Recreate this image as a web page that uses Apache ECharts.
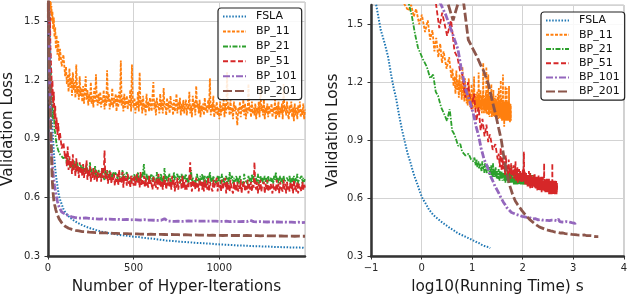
<!DOCTYPE html>
<html><head><meta charset="utf-8">
<script src="https://cdn.jsdelivr.net/npm/echarts/dist/echarts.min.js"></script>
<style>html,body{margin:0;padding:0;background:#fff}#c{width:630px;height:300px}</style>
</head><body><div id="c"></div>
<script>
// ---------------- DATA ----------------
const seriesNames = ['FSLA', 'BP_11', 'BP_21', 'BP_51', 'BP_101', 'BP_201'];
// hyper-iteration index of each sample (smooth curves)
const iterations = [1,2,3,4,5,6,7,8,10,12,14,16,18,20,23,26,30,34,38,42,46,50,55,60,65,70,80,90,100,
 110,120,130,140,150,160,170,180,190,200, 210,220,230,240,250,260,270,280,290,300,
 310,320,330,340,350,360,370,380,390,400, 410,420,430,440,450,460,470,480,490,500,
 510,520,530,540,550,560,570,580,590,600, 610,620,630,640,650,660,670,680,690,700,
 710,720,730,740,750,760,770,780,790,800, 810,820,830,840,850,860,870,880,890,900,
 910,920,930,940,950,960,970,980,990,1000, 1010,1020,1030,1040,1050,1060,1070,1080,1090,1100,
 1110,1120,1130,1140,1150,1160,1170,1180,1190,1200, 1210,1220,1230,1240,1250,1260,1270,1280,1290,1300,
 1310,1320,1330,1340,1350,1360,1370,1380,1390,1400, 1410,1420,1430,1440,1450,1460,1470,1480,1490,1500];
// hyper-iteration index of each sample (noisy curves, finer sampling)
const iterationsFine = [1,2,3,4,5,6,7,8,10,12,14,16,18,20,23,26,30,34,38,42,46,50,55,60,65,70,80,90,100,
 105,110,115,120,125,130,135,140,145,150,155,160,165,170,175,180,185,190,195,200,
 205,210,215,220,225,230,235,240,245,250,255,260,265,270,275,280,285,290,295,300,
 305,310,315,320,325,330,335,340,345,350,355,360,365,370,375,380,385,390,395,400,
 405,410,415,420,425,430,435,440,445,450,455,460,465,470,475,480,485,490,495,500,
 505,510,515,520,525,530,535,540,545,550,555,560,565,570,575,580,585,590,595,600,
 605,610,615,620,625,630,635,640,645,650,655,660,665,670,675,680,685,690,695,700,
 705,710,715,720,725,730,735,740,745,750,755,760,765,770,775,780,785,790,795,800,
 805,810,815,820,825,830,835,840,845,850,855,860,865,870,875,880,885,890,895,900,
 905,910,915,920,925,930,935,940,945,950,955,960,965,970,975,980,985,990,995,1000,
 1005,1010,1015,1020,1025,1030,1035,1040,1045,1050,1055,1060,1065,1070,1075,1080,1085,1090,1095,1100,
 1105,1110,1115,1120,1125,1130,1135,1140,1145,1150,1155,1160,1165,1170,1175,1180,1185,1190,1195,1200,
 1205,1210,1215,1220,1225,1230,1235,1240,1245,1250,1255,1260,1265,1270,1275,1280,1285,1290,1295,1300,
 1305,1310,1315,1320,1325,1330,1335,1340,1345,1350,1355,1360,1365,1370,1375,1380,1385,1390,1395,1400,
 1405,1410,1415,1420,1425,1430,1435,1440,1445,1450,1455,1460,1465,1470,1475,1480,1485,1490,1495,1500];
// running time per hyper-iteration (s) for each method
const secPerIter = [0.0156, 0.039, 0.106, 0.32, 0.75, 2.1];

const lossFSLA = [2.3,2.1,1.95,1.85,1.78,1.72,1.66,1.61,1.47,1.40,1.33,1.24,1.17,1.12,1.03,0.96,0.89,0.83,0.79,0.75,0.715,0.69,0.66,0.63,0.605,0.59,0.565,0.54,0.525,
 0.512,0.503,0.496,0.487,0.482,0.475,0.471,0.464,0.462,0.456,
 0.454,0.449,0.447,0.442,0.441,0.437,0.436,0.431,0.430,0.426,
 0.425,0.421,0.422,0.417,0.418,0.414,0.415,0.411,0.412,0.409,
 0.409,0.406,0.406,0.403,0.405,0.401,0.402,0.399,0.400,0.397,
 0.398,0.395,0.397,0.393,0.394,0.392,0.392,0.389,0.390,0.387,
 0.389,0.385,0.386,0.384,0.384,0.381,0.382,0.379,0.379,0.376,
 0.378,0.375,0.377,0.373,0.375,0.372,0.373,0.371,0.372,0.370,
 0.371,0.368,0.370,0.367,0.368,0.366,0.367,0.364,0.366,0.363,
 0.365,0.362,0.364,0.361,0.363,0.360,0.361,0.359,0.360,0.358,
 0.359,0.357,0.358,0.356,0.357,0.355,0.356,0.354,0.355,0.353,
 0.354,0.352,0.354,0.351,0.353,0.350,0.352,0.350,0.351,0.349,
 0.350,0.348,0.350,0.347,0.349,0.347,0.348,0.346,0.348,0.345,
 0.347,0.345,0.346,0.344,0.346,0.344,0.345,0.343,0.345,0.343,
 0.344,0.342,0.344,0.342,0.343,0.341,0.343,0.341,0.342,0.340];

const lossBP11 = [2.3,2.1,1.98,1.9,1.84,1.78,1.74,1.7,1.64,1.6,1.57,1.60,1.54,1.58,1.50,1.55,1.46,1.52,1.42,1.47,1.36,1.43,1.33,1.40,1.30,1.36,1.27,1.33,1.22,
 1.27,1.18,1.23,1.14,1.26,1.16,1.21,1.12,1.24,1.15,1.19,1.11,1.28,1.13,1.17,1.10,1.22,1.12,1.16,1.09,
 1.17,1.08,1.14,1.22,1.10,1.15,1.07,1.13,1.09,1.19,1.08,1.12,1.06,1.16,1.09,1.23,1.10,1.07,1.13,1.08,
 1.14,1.06,1.11,1.08,1.15,1.05,1.12,1.07,1.25,1.09,1.13,1.05,1.10,1.07,1.16,1.06,1.11,1.08,1.13,1.04,
 1.12,1.06,1.14,1.08,1.30,1.07,1.11,1.04,1.13,1.06,1.09,1.12,1.05,1.10,1.07,1.15,1.04,1.28,1.08,1.06,
 1.11,1.03,1.09,1.06,1.14,1.04,1.24,1.07,1.10,1.03,1.12,1.05,1.08,1.02,1.13,1.06,1.09,1.04,1.11,1.07,
 1.04,1.12,1.19,1.05,1.09,1.02,1.11,1.06,1.08,1.03,1.13,1.05,1.10,1.03,1.16,1.06,1.08,1.02,1.11,1.05,
 1.09,1.03,1.12,1.06,1.08,1.02,1.10,1.04,1.07,1.13,1.03,1.09,1.05,1.11,1.02,1.08,1.04,1.10,1.03,1.07,
 1.10,1.02,1.08,1.05,1.14,1.03,1.07,1.01,1.12,1.05,1.09,1.02,1.17,1.06,1.08,1.03,1.10,1.01,1.07,1.04,
 1.08,1.02,1.11,1.04,1.07,1.03,1.10,1.05,1.21,1.02,1.08,1.04,1.12,1.01,1.07,1.03,1.09,1.02,1.06,1.00,
 1.09,1.02,1.07,1.04,1.11,1.01,1.08,1.03,1.24,1.05,1.07,1.02,1.10,1.03,1.06,1.00,1.09,1.04,1.07,1.02,
 0.97,1.06,1.03,1.09,1.01,1.07,1.04,1.10,1.02,1.08,1.00,1.06,1.03,1.18,1.04,1.07,1.01,1.09,1.03,1.06,
 1.02,1.08,1.00,1.06,1.03,1.09,1.01,1.17,1.04,1.07,1.02,1.10,1.00,1.06,1.03,1.08,1.01,1.07,1.03,1.05,
 1.08,1.01,1.06,1.03,1.10,1.00,1.07,1.02,1.09,1.01,1.06,1.03,1.08,1.00,1.18,1.04,1.07,1.02,1.09,1.03,
 1.00,1.07,1.03,1.09,1.01,1.06,0.99,1.08,1.02,1.06,1.00,1.07,1.03,1.09,1.01,1.05,1.02,1.08,1.00,1.05];

const lossBP21 = [2.2,1.95,1.8,1.7,1.63,1.55,1.45,1.38,1.32,1.28,1.22,1.24,1.15,1.13,1.07,1.04,1.00,1.06,0.95,0.93,0.90,0.87,0.88,0.84,0.85,0.82,0.83,0.80,0.79,
 0.81,0.77,0.80,0.76,0.79,0.75,0.78,0.77,0.74,0.79,0.75,0.77,0.73,0.78,0.75,0.76,0.73,0.77,0.74,0.75,
 0.76,0.72,0.75,0.73,0.77,0.72,0.74,0.71,0.78,0.73,0.75,0.71,0.74,0.72,0.76,0.71,0.73,0.70,0.74,0.72,
 0.73,0.70,0.75,0.71,0.72,0.69,0.74,0.71,0.73,0.70,0.72,0.74,0.70,0.72,0.69,0.73,0.71,0.70,0.73,0.71,
 0.72,0.69,0.73,0.70,0.71,0.68,0.74,0.70,0.72,0.69,0.71,0.73,0.69,0.71,0.70,0.72,0.68,0.71,0.70,0.69,
 0.72,0.69,0.71,0.68,0.73,0.70,0.71,0.68,0.72,0.70,0.69,0.77,0.70,0.68,0.72,0.69,0.71,0.68,0.70,0.71,
 0.72,0.68,0.71,0.69,0.70,0.67,0.73,0.69,0.71,0.68,0.70,0.72,0.68,0.70,0.67,0.75,0.69,0.71,0.68,0.70,
 0.69,0.72,0.68,0.70,0.71,0.67,0.73,0.69,0.70,0.68,0.72,0.69,0.71,0.67,0.70,0.72,0.68,0.71,0.69,0.70,
 0.72,0.68,0.70,0.67,0.71,0.69,0.74,0.68,0.70,0.69,0.71,0.67,0.70,0.72,0.68,0.70,0.67,0.71,0.69,0.72,
 0.70,0.68,0.71,0.67,0.69,0.71,0.68,0.70,0.73,0.68,0.70,0.67,0.71,0.69,0.68,0.70,0.67,0.71,0.68,0.71,
 0.69,0.67,0.72,0.68,0.70,0.67,0.69,0.71,0.68,0.70,0.67,0.73,0.69,0.68,0.71,0.67,0.70,0.68,0.69,0.71,
 0.68,0.70,0.67,0.71,0.69,0.68,0.70,0.67,0.72,0.69,0.68,0.70,0.67,0.71,0.68,0.70,0.67,0.72,0.68,0.71,
 0.69,0.67,0.70,0.68,0.72,0.67,0.69,0.71,0.68,0.70,0.67,0.69,0.71,0.68,0.70,0.67,0.71,0.68,0.69,0.70,
 0.68,0.70,0.67,0.71,0.69,0.73,0.68,0.70,0.67,0.69,0.71,0.68,0.70,0.67,0.71,0.68,0.69,0.67,0.70,0.69,
 0.68,0.71,0.67,0.70,0.68,0.69,0.71,0.67,0.70,0.68,0.72,0.67,0.69,0.70,0.68,0.71,0.67,0.70,0.68,0.70];

const lossBP51 = [2.4,2.1,1.9,1.78,1.66,1.61,1.48,1.56,1.44,1.52,1.36,1.33,1.26,1.24,1.12,1.20,1.06,1.14,1.00,1.07,0.95,1.01,0.92,0.98,0.89,0.93,0.85,0.88,0.80,
 0.83,0.76,0.86,0.74,0.81,0.75,0.79,0.72,0.82,0.74,0.77,0.71,0.80,0.73,0.76,0.70,0.78,0.72,0.75,0.71,
 0.77,0.70,0.75,0.72,0.79,0.69,0.74,0.71,0.76,0.68,0.73,0.70,0.75,0.69,0.72,0.74,0.68,0.73,0.70,0.69,
 0.73,0.68,0.75,0.70,0.72,0.84,0.69,0.71,0.74,0.67,0.72,0.69,0.73,0.67,0.71,0.69,0.72,0.66,0.70,0.68,
 0.72,0.66,0.74,0.68,0.70,0.67,0.73,0.65,0.71,0.68,0.70,0.66,0.72,0.67,0.69,0.65,0.71,0.67,0.70,0.66,
 0.71,0.66,0.69,0.72,0.67,0.70,0.65,0.73,0.66,0.69,0.67,0.71,0.65,0.70,0.66,0.68,0.65,0.71,0.67,0.69,
 0.69,0.64,0.71,0.66,0.68,0.65,0.70,0.64,0.72,0.66,0.69,0.65,0.68,0.64,0.71,0.66,0.69,0.64,0.68,0.66,
 0.70,0.65,0.68,0.64,0.71,0.66,0.69,0.63,0.68,0.65,0.70,0.64,0.67,0.66,0.69,0.64,0.71,0.65,0.68,0.64,
 0.69,0.64,0.67,0.65,0.70,0.78,0.66,0.63,0.69,0.65,0.68,0.64,0.70,0.65,0.67,0.63,0.69,0.66,0.68,0.64,
 0.68,0.63,0.69,0.65,0.67,0.64,0.70,0.63,0.68,0.66,0.67,0.63,0.69,0.65,0.66,0.64,0.70,0.63,0.68,0.65,
 0.67,0.63,0.69,0.64,0.66,0.65,0.70,0.62,0.68,0.64,0.67,0.63,0.69,0.65,0.66,0.62,0.68,0.64,0.67,0.63,
 0.68,0.63,0.66,0.64,0.69,0.62,0.67,0.65,0.68,0.63,0.66,0.64,0.69,0.62,0.67,0.64,0.68,0.63,0.67,0.65,
 0.78,0.66,0.64,0.68,0.62,0.67,0.64,0.69,0.63,0.66,0.65,0.68,0.62,0.67,0.64,0.69,0.63,0.66,0.64,0.67,
 0.68,0.62,0.67,0.64,0.66,0.63,0.69,0.64,0.67,0.62,0.68,0.65,0.66,0.63,0.69,0.64,0.67,0.62,0.68,0.64,
 0.66,0.63,0.68,0.64,0.67,0.62,0.69,0.64,0.66,0.63,0.68,0.62,0.67,0.65,0.66,0.63,0.68,0.64,0.67,0.65];

const lossBP101 = [2.0,1.75,1.62,1.55,1.48,1.42,1.37,1.28,1.16,1.10,1.04,0.97,0.92,0.86,0.80,0.77,0.72,0.69,0.66,0.64,0.62,0.60,0.58,0.565,0.55,0.54,0.525,0.52,0.515,
 0.512,0.506,0.505,0.500,0.502,0.497,0.499,0.494,0.497,0.494,
 0.492,0.495,0.489,0.493,0.488,0.491,0.487,0.490,0.486,0.489,
 0.485,0.490,0.486,0.488,0.484,0.489,0.485,0.487,0.483,0.488,
 0.484,0.487,0.482,0.486,0.483,0.487,0.481,0.485,0.482,0.486,
 0.481,0.485,0.480,0.484,0.482,0.486,0.480,0.483,0.481,0.484,
 0.479,0.483,0.480,0.482,0.478,0.483,0.480,0.491,0.481,0.479,
 0.482,0.478,0.481,0.477,0.480,0.478,0.482,0.477,0.480,0.478,
 0.476,0.480,0.477,0.479,0.476,0.480,0.477,0.479,0.475,0.478,
 0.476,0.479,0.475,0.478,0.476,0.479,0.474,0.478,0.475,0.477,
 0.474,0.477,0.475,0.478,0.473,0.476,0.474,0.477,0.473,0.476,
 0.474,0.476,0.472,0.477,0.474,0.476,0.473,0.483,0.474,0.476,
 0.472,0.475,0.473,0.476,0.471,0.475,0.472,0.474,0.471,0.475,
 0.471,0.474,0.470,0.474,0.472,0.473,0.470,0.474,0.471,0.473,
 0.469,0.473,0.470,0.472,0.469,0.473,0.470,0.471,0.468,0.472];

const lossBP201 = [1.78,1.52,1.68,1.42,1.37,1.33,1.29,1.26,1.19,1.10,1.03,0.96,0.90,0.82,0.73,0.67,0.62,0.585,0.565,0.55,0.535,0.525,0.51,0.50,0.49,0.48,0.47,0.46,0.452,
 0.447,0.442,0.439,0.436,0.434,0.431,0.430,0.428,0.427,0.425,
 0.424,0.424,0.422,0.422,0.420,0.421,0.419,0.420,0.418,0.419,
 0.417,0.418,0.416,0.418,0.415,0.417,0.415,0.416,0.414,0.416,
 0.414,0.415,0.413,0.415,0.412,0.414,0.412,0.413,0.411,0.413,
 0.411,0.413,0.410,0.412,0.410,0.412,0.409,0.411,0.410,0.412,
 0.409,0.411,0.408,0.410,0.409,0.411,0.408,0.410,0.407,0.409,
 0.408,0.410,0.407,0.409,0.407,0.409,0.406,0.408,0.407,0.409,
 0.406,0.408,0.406,0.407,0.405,0.408,0.406,0.407,0.405,0.407,
 0.405,0.407,0.404,0.406,0.405,0.407,0.404,0.406,0.404,0.406,
 0.404,0.405,0.403,0.406,0.404,0.405,0.403,0.405,0.403,0.405,
 0.403,0.405,0.402,0.404,0.403,0.405,0.402,0.404,0.402,0.404,
 0.402,0.404,0.401,0.403,0.402,0.404,0.401,0.403,0.401,0.403,
 0.401,0.403,0.400,0.402,0.401,0.403,0.400,0.402,0.400,0.402,
 0.400,0.402,0.399,0.401,0.400,0.402,0.399,0.401,0.400,0.401];

const allLosses = [lossFSLA, lossBP11, lossBP21, lossBP51, lossBP101, lossBP201];
const iterBySeries = [iterations, iterationsFine, iterationsFine, iterationsFine, iterations, iterations];

const yTicks = [0.3, 0.6, 0.9, 1.2, 1.5];
const xTicksLeft = [0, 500, 1000];
const xTicksRight = [-1, 0, 1, 2, 3, 4];

// ---------------- STYLE ----------------
const colors = ['#1f77b4', '#ff7f0e', '#2ca02c', '#d62728', '#9467bd', '#8c564b'];
const dashes = [[1.5, 1.6], [3, 1.5], [5, 1.5, 1.5, 1.5], [5, 2.5], [7, 2, 2, 2], [9, 3]];
const widths = [2, 1.8, 1.8, 1.8, 2.8, 2.8];
const FONT = 'DejaVu Sans';

const chart = echarts.init(document.getElementById('c'), null, {renderer: 'canvas'});

function yAxis(gridIndex, gap) {
  return {
    type: 'value', gridIndex, min: 0.3, max: 1.6, interval: 0.3,
    name: 'Validation Loss', nameLocation: 'middle', nameGap: gap,
    nameTextStyle: {fontFamily: FONT, fontSize: 15.3, color: '#1a1a1a'},
    axisLine: {show: true, onZero: false, lineStyle: {color: '#333', width: 2.5}},
    axisTick: {show: true, length: 3.5, lineStyle: {color: '#333'}},
    axisLabel: {fontFamily: FONT, fontSize: 10, color: '#262626', margin: 8, showMaxLabel: false,
      formatter: v => yTicks.some(t => Math.abs(t - v) < 1e-6) ? v.toFixed(1) : ''},
    splitLine: {show: true, lineStyle: {color: '#d3d3d3', width: 1}}
  };
}
function xAxisCommon(gridIndex, name) {
  return {
    type: 'value', gridIndex, name, nameLocation: 'middle', nameGap: 24,
    nameTextStyle: {fontFamily: FONT, fontSize: 15.3, color: '#1a1a1a'},
    axisLine: {show: true, onZero: false, lineStyle: {color: '#333', width: 2.5}},
    axisTick: {show: true, length: 3.5, lineStyle: {color: '#333'}},
    splitLine: {show: true, lineStyle: {color: '#d3d3d3', width: 1}}
  };
}

const series = [];
seriesNames.forEach((name, s) => {
  const its = iterBySeries[s];
  const common = {
    type: 'line', name, symbol: 'none', showSymbol: false, clip: true,
    animation: false,
    lineStyle: {color: colors[s], width: widths[s], type: dashes[s]},
    itemStyle: {color: colors[s]}
  };
  series.push(Object.assign({}, common, {
    xAxisIndex: 0, yAxisIndex: 0,
    data: its.map((it, k) => [it, allLosses[s][k]])
  }));
  series.push(Object.assign({}, common, {
    xAxisIndex: 1, yAxisIndex: 1,
    data: its.map((it, k) => [Math.log10(it * secPerIter[s]), allLosses[s][k]])
  }));
});

function legend(left, top, gap) {
  return {
    left, top, orient: 'vertical', data: seriesNames, selectedMode: false,
    itemWidth: 23, itemHeight: 14, itemGap: gap,
    padding: [3, 5, 3, 4],
    itemStyle: {opacity: 0},
    backgroundColor: 'rgba(255,255,255,0.85)', borderColor: '#222', borderWidth: 1.2, borderRadius: 3,
    textStyle: {fontFamily: FONT, fontSize: 11, color: '#111', padding: [0, 0, 0, 5]}
  };
}

chart.setOption({
  backgroundColor: '#fff',
  animation: false,
  grid: [
    {left: 47, right: 325, top: 2, bottom: 40, show: true, borderColor: '#bdbdbd', borderWidth: 1},
    {left: 371, right: 4, top: 5, bottom: 40, show: true, borderColor: '#bdbdbd', borderWidth: 1}
  ],
  xAxis: [
    Object.assign(xAxisCommon(0, 'Number of Hyper-Iterations'), {
      min: 0, max: 1500, interval: 500,
      axisLabel: {fontFamily: FONT, fontSize: 10, color: '#262626', margin: 7, showMaxLabel: false,
        formatter: v => xTicksLeft.includes(v) ? String(v) : ''}
    }),
    Object.assign(xAxisCommon(1, 'log10(Running Time) s'), {
      min: -1, max: 4, interval: 1,
      axisLabel: {fontFamily: FONT, fontSize: 10, color: '#262626', margin: 7,
        formatter: v => xTicksRight.includes(v) ? String(v).replace('-', '\u2212') : ''}
    })
  ],
  yAxis: [yAxis(0, 32), yAxis(1, 30)],
  legend: [legend(218, 8, 3.7), legend(541, 12, 3)],
  series
});
</script>
</body></html>
